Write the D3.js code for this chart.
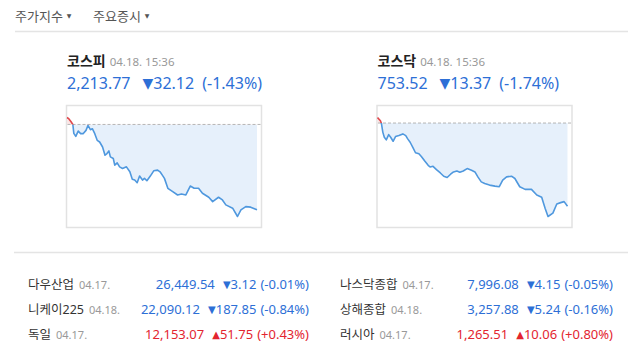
<!DOCTYPE html>
<html>
<head>
<meta charset="utf-8">
<script src="https://cdn.jsdelivr.net/npm/d3@7.9.0/dist/d3.min.js"></script>
<style>
  body { margin: 0; background: #fff; }
  svg { display: block; font-family: "Noto Sans", "Noto Sans CJK KR", sans-serif; }
</style>
</head>
<body>
<svg width="640" height="350"></svg>
<script>
// intraday data, minutes after 09:00
const kospiMinutes = [0, 4, 8, 12, 14, 18, 23, 28, 33, 39, 43, 48, 52, 57, 62, 67, 73, 78, 82, 86, 89, 95, 98, 103, 108, 114, 122, 129, 134, 139, 144, 149, 155, 159, 164, 171, 178, 186, 191, 197, 200, 207, 217, 227, 235, 244, 253, 261, 270, 278, 291, 299, 311, 319, 326, 340, 350, 357, 367, 377, 390];
const kospiValues = [2248.50, 2247.94, 2247.01, 2245.89, 2242.53, 2241.41, 2243.39, 2242.42, 2242.42, 2243.65, 2245.52, 2243.91, 2244.28, 2242.42, 2239.91, 2239.28, 2237.41, 2234.31, 2234.95, 2235.92, 2233.68, 2233.08, 2230.58, 2231.44, 2229.94, 2229.34, 2229.94, 2228.07, 2225.24, 2224.97, 2223.97, 2226.47, 2224.97, 2225.61, 2224.71, 2226.47, 2228.45, 2228.71, 2228.07, 2226.47, 2225.61, 2221.87, 2220.60, 2219.37, 2219.74, 2219.37, 2222.73, 2221.87, 2221.87, 2220.01, 2218.51, 2216.87, 2218.51, 2217.50, 2215.64, 2214.40, 2211.27, 2213.77, 2215.00, 2214.78, 2213.77];
const kosdaqMinutes = [0, 6, 8, 11, 14, 18, 23, 27, 32, 37, 44, 52, 58, 62, 67, 73, 78, 85, 90, 97, 104, 108, 114, 121, 129, 136, 143, 150, 156, 163, 169, 176, 184, 193, 200, 206, 213, 220, 230, 241, 250, 257, 265, 275, 282, 292, 303, 316, 327, 337, 344, 350, 360, 368, 376, 383, 390];
const kosdaqValues = [767.78, 767.26, 766.83, 765.39, 764.60, 764.18, 765.03, 764.60, 763.96, 764.71, 764.87, 765.14, 764.87, 764.34, 763.80, 762.91, 762.11, 761.95, 761.52, 760.78, 760.09, 759.82, 759.93, 759.40, 758.86, 758.33, 758.13, 758.66, 759.03, 759.18, 758.98, 759.18, 759.57, 759.30, 759.03, 758.23, 757.43, 757.18, 756.91, 756.75, 756.65, 757.70, 758.23, 758.34, 757.97, 756.64, 756.22, 756.22, 755.32, 754.95, 753.20, 751.86, 752.40, 753.88, 754.09, 754.25, 753.52];

const indexNames = ['코스피', '코스닥'];
const indexTimes = ['04.18. 15:36', '04.18. 15:36'];
const indexPrices = [2213.77, 753.52];
const indexChanges = [-32.12, -13.37];
const indexRates = [-1.43, -1.74];

const worldNames = ['다우산업', '나스닥종합', '니케이225', '상해종합', '독일', '러시아'];
const worldDates = ['04.17.', '04.17.', '04.18.', '04.18.', '04.17.', '04.17.'];
const worldPrices = [26449.54, 7996.08, 22090.12, 3257.88, 12153.07, 1265.51];
const worldChanges = [-3.12, -4.15, -187.85, -5.24, 51.75, 10.06];
const worldRates = [-0.01, -0.05, -0.84, -0.16, 0.43, 0.80];

const BLUE = '#2d6fd6', RED = '#e3242f', GRAY = '#999';
const fmt = d3.format(',.2f');

const svg = d3.select('svg');

// top tabs
const tabs = [['주가지수', 15], ['주요증시', 93]];
tabs.forEach(([t, x]) => {
  const g = svg.append('text').attr('x', x).attr('y', 21)
    .attr('font-size', 13).attr('fill', '#555');
  g.append('tspan').text(t);
  g.append('tspan').attr('dx', 4).attr('font-size', 6).attr('dy', -3)
    .attr('font-family', 'DejaVu Sans').text('▼');
});
svg.append('line').attr('x1', 15).attr('x2', 628).attr('y1', 31.5).attr('y2', 31.5)
  .attr('stroke', '#e4e4e4').attr('stroke-width', 1.5);
svg.append('line').attr('x1', 14).attr('x2', 628).attr('y1', 252.5).attr('y2', 252.5)
  .attr('stroke', '#e4e4e4').attr('stroke-width', 1.5);

const panels = [
  { x: 66.5, minutes: kospiMinutes, values: kospiValues },
  { x: 377, minutes: kosdaqMinutes, values: kosdaqValues }
];

panels.forEach((p, i) => {
  const box = { x: p.x, y: 105.5, w: 195, h: 122 };
  const prev = +(indexPrices[i] - indexChanges[i]).toFixed(2);

  // title
  const title = svg.append('text').attr('x', p.x + 0.5).attr('y', 66);
  title.append('tspan').attr('font-size', 14).attr('font-weight', 'bold').attr('fill', '#222')
    .attr('font-family', 'Noto Sans CJK KR').text(indexNames[i]);
  title.append('tspan').attr('dx', 4).attr('font-size', 11.5).attr('fill', GRAY).text(indexTimes[i]);

  const price = svg.append('text').attr('x', p.x + 0.5).attr('y', 89).attr('fill', BLUE);
  price.append('tspan').attr('font-size', 16).text(fmt(indexPrices[i]));
  price.append('tspan').attr('dx', 12).attr('font-size', 14).attr('dy', -1)
    .attr('font-family', 'DejaVu Sans').text('▼');
  price.append('tspan').attr('font-size', 16).attr('dy', 1).text(Math.abs(indexChanges[i]).toFixed(2));
  price.append('tspan').attr('dx', 8).attr('font-size', 16).text(`(${indexRates[i].toFixed(2)}%)`);

  // chart box
  svg.append('rect').attr('x', box.x).attr('y', box.y).attr('width', box.w).attr('height', box.h)
    .attr('fill', '#fff').attr('stroke', '#e2e2e2').attr('stroke-width', 1.5);

  const data = p.minutes.map((m, k) => ({ m, v: p.values[k] }));
  const x = d3.scaleLinear().domain([0, 390]).range([box.x + 0.5, box.x + box.w - 4.5]);
  const y = d3.scaleLinear().domain(d3.extent(p.values)).range([box.y + box.h - 11, box.y + 12]);
  const by = y(prev);

  const upId = `up${i}`, dnId = `dn${i}`;
  const defs = svg.append('defs');
  defs.append('clipPath').attr('id', upId).append('rect')
    .attr('x', box.x).attr('y', box.y).attr('width', box.w).attr('height', by - box.y);
  defs.append('clipPath').attr('id', dnId).append('rect')
    .attr('x', box.x).attr('y', by).attr('width', box.w).attr('height', box.y + box.h - by);

  const area = d3.area().x(d => x(d.m)).y0(by).y1(d => y(d.v));
  const line = d3.line().x(d => x(d.m)).y(d => y(d.v));

  svg.append('path').datum(data).attr('d', area).attr('fill', '#e6f0fb').attr('clip-path', `url(#${dnId})`);
  svg.append('path').datum(data).attr('d', area).attr('fill', '#fbe6e6').attr('clip-path', `url(#${upId})`);

  svg.append('line').attr('x1', box.x + 1).attr('x2', box.x + box.w - 1).attr('y1', by).attr('y2', by)
    .attr('stroke', '#b5b5b5').attr('stroke-dasharray', '3,2');

  svg.append('path').datum(data).attr('d', line).attr('fill', 'none')
    .attr('stroke', '#4f98de').attr('stroke-width', 1.6).attr('stroke-linejoin', 'round')
    .attr('clip-path', `url(#${dnId})`);
  svg.append('path').datum(data).attr('d', line).attr('fill', 'none')
    .attr('stroke', '#e0484c').attr('stroke-width', 1.6).attr('stroke-linejoin', 'round')
    .attr('clip-path', `url(#${upId})`);
});

// world markets rows
const rowY = [289, 314, 339];
const colX = [28, 340];
const colRight = [309, 613];
worldNames.forEach((name, k) => {
  const col = k % 2, row = Math.floor(k / 2);
  const yy = rowY[row];
  const up = worldChanges[k] > 0;
  const color = up ? RED : BLUE;

  const lab = svg.append('text').attr('x', colX[col]).attr('y', yy);
  lab.append('tspan').attr('font-size', 12.5).attr('fill', '#333').text(name);
  lab.append('tspan').attr('dx', 5).attr('font-size', 11).attr('fill', GRAY).text(worldDates[k]);

  const chg = svg.append('text').attr('x', colRight[col]).attr('y', yy)
    .attr('text-anchor', 'end').attr('fill', color).attr('font-size', 13);
  chg.append('tspan').attr('font-family', 'DejaVu Sans').attr('font-size', 10).attr('dy', -1)
    .text(up ? '▲' : '▼');
  chg.append('tspan').attr('dy', 1).text(Math.abs(worldChanges[k]).toFixed(2));
  chg.append('tspan').attr('dx', 4).text(`(${up ? '+' : ''}${worldRates[k].toFixed(2)}%)`);

  const w = chg.node().getBBox().width;
  svg.append('text').attr('x', colRight[col] - w - 8).attr('y', yy)
    .attr('text-anchor', 'end').attr('fill', color).attr('font-size', 13)
    .text(fmt(worldPrices[k]));
});
</script>
</body>
</html>
